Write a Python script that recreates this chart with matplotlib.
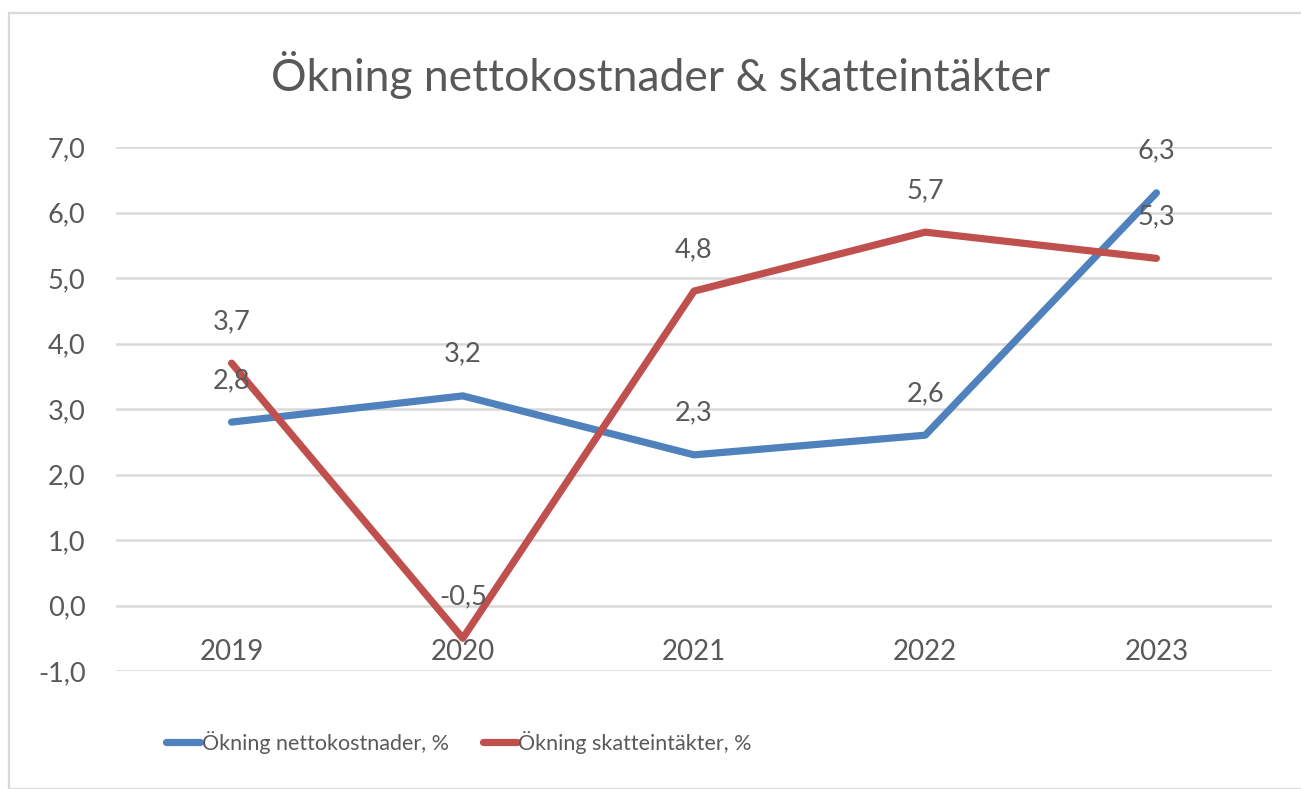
import matplotlib
matplotlib.use("Agg")
import matplotlib.pyplot as plt
from matplotlib.patches import Rectangle

# ---- data ----
years = ["2019", "2020", "2021", "2022", "2023"]
nettokostnader = [2.8, 3.2, 2.3, 2.6, 6.3]
skatteintakter = [3.7, -0.5, 4.8, 5.7, 5.3]
series_names = ["Ökning nettokostnader, %", "Ökning skatteintäkter, %"]
title = "Ökning nettokostnader & skatteintäkter"
yticks = [-1, 0, 1, 2, 3, 4, 5, 6, 7]

plt.rcParams['font.family'] = ['Lato', 'DejaVu Sans']
TXT = "#595959"
GRID = "#D9D9D9"
BLUE = "#4F81BD"
RED = "#C0504D"

fig = plt.figure(figsize=(13.01, 7.89), dpi=100)
W, H = 1301, 789

# chart border
fig.patches.append(Rectangle((9 / W, 0), 1.2, 1 - 13 / H, transform=fig.transFigure,
                             fill=False, edgecolor=GRID, linewidth=1.6, zorder=0))

ax = fig.add_axes([116 / W, 1 - 671 / H, (1272 - 116) / W, (671 - 147) / H])
x = list(range(len(years)))

ax.plot(x, nettokostnader, color=BLUE, lw=5.2, solid_capstyle='round',
        solid_joinstyle='round', label=series_names[0], zorder=3)
ax.plot(x, skatteintakter, color=RED, lw=5.2, solid_capstyle='round',
        solid_joinstyle='round', label=series_names[1], zorder=3)

for xs, vals in [(x, nettokostnader), (x, skatteintakter)]:
    for xi, v in zip(xs, vals):
        ax.annotate(f"{v:.1f}".replace(".", ","), (xi, v), xytext=(0, 30),
                    textcoords="offset points", ha="center", va="center",
                    fontsize=19.5, color=TXT, zorder=4)

ax.set_xlim(-0.5, len(years) - 0.5)
ax.set_ylim(min(yticks), max(yticks))
ax.set_yticks(yticks)
ax.set_yticklabels([f"{t:.1f}".replace(".", ",") for t in yticks])
ax.yaxis.grid(True, color=GRID, lw=1.8)
ax.set_axisbelow(True)
for s in ax.spines.values():
    s.set_visible(False)
ax.spines['bottom'].set_position(('data', 0))
ax.set_xticks(x)
ax.set_xticklabels(years)
ax.tick_params(axis='x', length=0, pad=24, labelsize=20, labelcolor=TXT)
ax.tick_params(axis='y', length=0, pad=22, labelsize=19.5, labelcolor=TXT)

fig.text(661 / W, 1 - 75 / H, title, ha="center", va="center", fontsize=32, color=TXT)

leg = fig.legend(loc="center", bbox_to_anchor=(459 / W, 1 - 742 / H), ncol=2,
                 frameon=False, handlelength=1.6, handletextpad=0.05,
                 columnspacing=1.6, labelcolor=TXT, fontsize=15.5)
for h in leg.legend_handles:
    h.set_linewidth(5.2)

fig.savefig("out.png", dpi=100)
